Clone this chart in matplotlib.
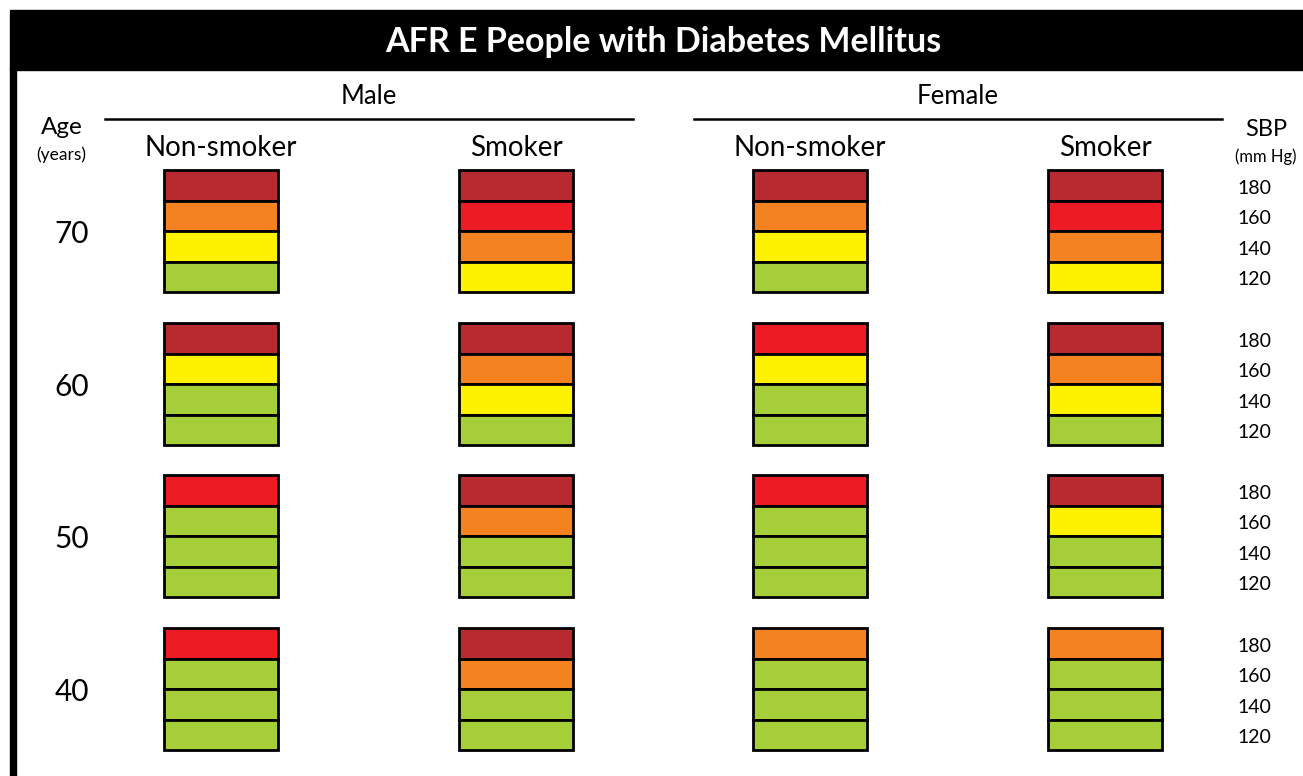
import matplotlib.pyplot as plt
from matplotlib.patches import Rectangle

plt.rcParams['font.family'] = ['Lato', 'DejaVu Sans']

title = 'AFR E People with Diabetes Mellitus'
sexes = ['Male', 'Female']
smoking = ['Non-smoker', 'Smoker']
ages = [70, 60, 50, 40]
sbp = [180, 160, 140, 120]

# risk level per cell, top (180) to bottom (120); 0 green .. 4 dark red
male_non = [[4, 2, 1, 0], [4, 1, 0, 0], [3, 0, 0, 0], [3, 0, 0, 0]]
male_smk = [[4, 3, 2, 1], [4, 2, 1, 0], [4, 2, 0, 0], [4, 2, 0, 0]]
fem_non = [[4, 2, 1, 0], [3, 1, 0, 0], [3, 0, 0, 0], [2, 0, 0, 0]]
fem_smk = [[4, 3, 2, 1], [4, 2, 1, 0], [4, 1, 0, 0], [2, 0, 0, 0]]

level_colors = ['#A6CE39', '#FFF200', '#F58220', '#ED1C24', '#B72A30']

W, H = 1303, 776
fig = plt.figure(figsize=(W / 100, H / 100), dpi=100)
ax = fig.add_axes([0, 0, 1, 1])
ax.set_xlim(0, W)
ax.set_ylim(H, 0)
ax.axis('off')

# title bar and left border
ax.add_patch(Rectangle((10, 10), W - 10, 60, color='black'))
ax.add_patch(Rectangle((10, 68), 6, H - 68, color='black'))
ax.text(663, 42, title, color='white', fontsize=24.5, fontweight='bold',
        ha='center', va='center')

col_x = [221, 516, 810, 1105]
box_w = 114
cell_h = 30.5
row_top = [170, 323, 475, 628]
panels = [male_non, male_smk, fem_non, fem_smk]

# headers
sex_x = [369, 958]
for i, s in enumerate(sexes):
    ax.text(sex_x[i], 97, s, fontsize=18.5, ha='center', va='center')
    ax.plot([sex_x[i] - 264, sex_x[i] + 264], [119, 119],
            color='black', lw=1.8)
for j, cx in enumerate(col_x):
    ax.text(cx, 148, smoking[j % 2], fontsize=20, ha='center', va='center')

ax.text(62, 127, 'Age', fontsize=17.5, ha='center', va='center')
ax.text(61, 155, '(years)', fontsize=12.5, ha='center', va='center')
ax.text(1266, 129, 'SBP', fontsize=17, ha='center', va='center')
ax.text(1266, 157, '(mm Hg)', fontsize=12, ha='center', va='center')

for r, age in enumerate(ages):
    top = row_top[r]
    ax.text(72, top + 2 * cell_h + 3, str(age), fontsize=21.5,
            ha='center', va='center')
    for k, v in enumerate(sbp):
        ax.text(1254, top + (k + 0.5) * cell_h + 3, str(v), fontsize=14,
                ha='center', va='center')
    for c, panel in enumerate(panels):
        for k, lvl in enumerate(panel[r]):
            ax.add_patch(Rectangle((col_x[c] - box_w / 2, top + k * cell_h),
                                   box_w, cell_h, facecolor=level_colors[lvl],
                                   edgecolor='black', lw=2))

fig.savefig('out.png', dpi=100)
